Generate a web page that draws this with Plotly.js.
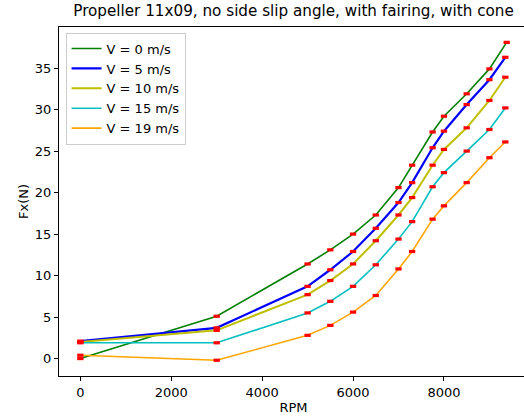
<!DOCTYPE html>
<html>
<head>
<meta charset="utf-8">
<script src="https://cdn.plot.ly/plotly-3.0.1.min.js"></script>
<style>
html,body{margin:0;padding:0;overflow:hidden;background:#fff;}
#chart{width:528px;height:416px;}
</style>
</head>
<body>
<div id="chart"></div>
<script>
// RPM values (shared), V=0 series has a slightly higher final RPM
const rpm   = [0, 3000, 5000, 5500, 6000, 6500, 7000, 7300, 7750, 8000, 8500, 9000, 9350];
const rpmV0 = [0, 3000, 5000, 5500, 6000, 6500, 7000, 7300, 7750, 8000, 8500, 9000, 9380];

const labels = ["V = 0 m/s", "V = 5 m/s", "V = 10 m/s", "V = 15 m/s", "V = 19 m/s"];

const fxV0  = [0.0, 5.1, 11.4, 13.1, 15.0, 17.3, 20.6, 23.3, 27.3, 29.2, 31.9, 34.9, 38.1];
const fxV5  = [2.1, 3.7, 8.7, 10.7, 12.9, 15.7, 18.8, 21.2, 25.4, 27.4, 30.6, 33.6, 36.3];
const fxV10 = [2.0, 3.4, 7.7, 9.4, 11.4, 14.2, 17.3, 19.4, 23.3, 25.2, 27.8, 31.1, 33.9];
const fxV15 = [1.9, 1.9, 5.5, 6.9, 8.7, 11.3, 14.4, 16.5, 20.7, 22.4, 25.0, 27.6, 30.2];
const fxV19 = [0.4, -0.2, 2.8, 4.0, 5.6, 7.6, 10.8, 12.9, 16.8, 18.4, 21.2, 24.2, 26.1];

const xTicks = [0, 2000, 4000, 6000, 8000];
const yTicks = [0, 5, 10, 15, 20, 25, 30, 35];

const colors = ["#008000", "#0000ff", "#bfbf00", "#00bfbf", "#ffa500"];
const widths = [1.6, 2.2, 2.0, 1.6, 1.6];

const xs = [rpmV0, rpm, rpm, rpm, rpm];
const ys = [fxV0, fxV5, fxV10, fxV15, fxV19];

const traces = [];
for (let i = 0; i < ys.length; i++) {
  traces.push({
    x: xs[i], y: ys[i], type: "scatter", mode: "lines",
    name: labels[i],
    line: {color: colors[i], width: widths[i]},
    hoverinfo: "skip"
  });
}
for (let i = 0; i < ys.length; i++) {
  traces.push({
    x: xs[i], y: ys[i], type: "scatter", mode: "markers",
    showlegend: false,
    marker: {symbol: "line-ew", size: 4.5, color: "#ff0000", line: {color: "#ff0000", width: 3.2}},
    hoverinfo: "skip"
  });
}

const font = {family: "DejaVu Sans", size: 13, color: "#000"};

const layout = {
  width: 528, height: 416,
  margin: {l: 59, r: 0, t: 27, b: 40},
  paper_bgcolor: "#fff", plot_bgcolor: "#fff",
  font: font,
  title: {text: "Propeller 11x09, no side slip angle, with fairing, with cone",
          font: {family: "DejaVu Sans", size: 15.2, color: "#000"},
          xref: "paper", x: 0.5, xanchor: "center", y: 0.986, yanchor: "top"},
  showlegend: true,
  legend: {x: 0.014, y: 0.984, xanchor: "left", yanchor: "top",
           bgcolor: "rgba(255,255,255,0.9)", bordercolor: "#cccccc", borderwidth: 1,
           font: {family: "DejaVu Sans", size: 13, color: "#000"},
           tracegroupgap: 0, itemwidth: 30},
  xaxis: {
    range: [-469, 9849], tickmode: "array", tickvals: xTicks,
    ticktext: xTicks.map(String),
    showgrid: false, zeroline: false,
    showline: true, linecolor: "#000", linewidth: 1, mirror: true,
    ticks: "outside", ticklen: 4, tickcolor: "#000", tickwidth: 1,
    tickfont: font,
    title: {text: "RPM", font: font, standoff: 4}
  },
  yaxis: {
    range: [-2.1, 39.95], tickmode: "array", tickvals: yTicks,
    ticktext: yTicks.map(String),
    showgrid: false, zeroline: false,
    showline: true, linecolor: "#000", linewidth: 1, mirror: true,
    ticks: "outside", ticklen: 4, tickcolor: "#000", tickwidth: 1,
    tickfont: font,
    title: {text: "Fx(N)", font: font, standoff: 3}
  }
};

Plotly.newPlot("chart", traces, layout, {displayModeBar: false, staticPlot: true});
</script>
</body>
</html>
